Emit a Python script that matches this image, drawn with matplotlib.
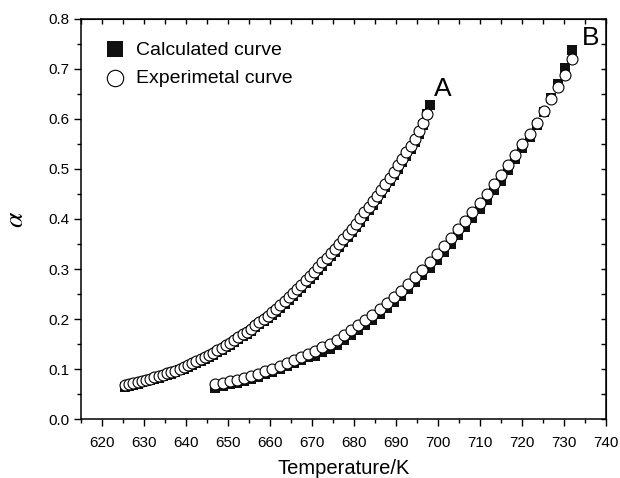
import numpy as np
import matplotlib
matplotlib.use('Agg')
import matplotlib.pyplot as plt
from matplotlib.ticker import MultipleLocator, FormatStrFormatter

plt.rcParams['font.family'] = 'Liberation Sans'
plt.rcParams['mathtext.fontset'] = 'stix'

# curve A, experimental (circles)
t_a = [625.5, 626.5, 627.5, 628.5, 629.5, 630.5, 631.5, 632.5, 633.5, 634.5,
       635.5, 636.5, 637.5, 638.5, 639.5, 640.5, 641.5, 642.5, 643.5, 644.5,
       645.5, 646.5, 647.5, 648.5, 649.5, 650.5, 651.5, 652.5, 653.5, 654.5,
       655.5, 656.5, 657.5, 658.5, 659.5, 660.5, 661.5, 662.5, 663.5, 664.5,
       665.5, 666.5, 667.5, 668.5, 669.5, 670.5, 671.5, 672.5, 673.5, 674.5,
       675.5, 676.5, 677.5, 678.5, 679.5, 680.5, 681.5, 682.5, 683.5, 684.5,
       685.5, 686.5, 687.5, 688.5, 689.5, 690.5, 691.5, 692.5, 693.5, 694.5,
       695.5, 696.5, 697.5]
exp_a = [0.068, 0.070, 0.072, 0.074, 0.077, 0.079, 0.081, 0.084, 0.086, 0.089,
         0.092, 0.094, 0.097, 0.101, 0.104, 0.108, 0.112, 0.116, 0.120, 0.124,
         0.128, 0.133, 0.138, 0.143, 0.148, 0.153, 0.158, 0.164, 0.170, 0.175,
         0.181, 0.188, 0.194, 0.200, 0.207, 0.214, 0.221, 0.229, 0.236, 0.244,
         0.252, 0.261, 0.269, 0.278, 0.286, 0.295, 0.304, 0.313, 0.322, 0.331,
         0.340, 0.350, 0.360, 0.370, 0.380, 0.390, 0.401, 0.413, 0.424, 0.435,
         0.446, 0.458, 0.470, 0.482, 0.494, 0.507, 0.520, 0.533, 0.546, 0.559,
         0.575, 0.592, 0.610]
# curve A, calculated (squares)
tc_a = t_a + [698.2]
calc_a = [0.065, 0.067, 0.069, 0.071, 0.074, 0.076, 0.078, 0.081, 0.083, 0.086,
          0.089, 0.091, 0.094, 0.098, 0.101, 0.104, 0.108, 0.112, 0.116, 0.120,
          0.124, 0.129, 0.134, 0.139, 0.144, 0.149, 0.154, 0.160, 0.166, 0.171,
          0.177, 0.184, 0.190, 0.196, 0.203, 0.208, 0.215, 0.223, 0.230, 0.238,
          0.246, 0.255, 0.263, 0.272, 0.280, 0.289, 0.298, 0.307, 0.316, 0.325,
          0.334, 0.344, 0.354, 0.364, 0.374, 0.383, 0.394, 0.406, 0.417, 0.428,
          0.439, 0.451, 0.463, 0.475, 0.487, 0.500, 0.513, 0.526, 0.539, 0.553,
          0.570, 0.588, 0.609, 0.628]

# curve B
t_b = [647.0, 648.7, 650.4, 652.1, 653.8, 655.5, 657.2, 658.9, 660.6, 662.3,
       664.0, 665.7, 667.4, 669.1, 670.8, 672.5, 674.2, 675.9, 677.6, 679.3,
       681.0, 682.7, 684.4, 686.1, 687.8, 689.5, 691.2, 692.9, 694.6, 696.3,
       698.0, 699.7, 701.4, 703.1, 704.8, 706.5, 708.2, 709.9, 711.6, 713.3,
       715.0, 716.7, 718.4, 720.1, 721.8, 723.5, 725.2, 726.9, 728.6, 730.3,
       732.0]
exp_b = [0.070, 0.073, 0.076, 0.079, 0.082, 0.086, 0.091, 0.096, 0.101, 0.106,
         0.112, 0.118, 0.124, 0.130, 0.137, 0.144, 0.151, 0.159, 0.168, 0.178,
         0.188, 0.198, 0.209, 0.220, 0.232, 0.244, 0.257, 0.270, 0.284, 0.298,
         0.313, 0.329, 0.345, 0.362, 0.379, 0.396, 0.414, 0.432, 0.450, 0.469,
         0.488, 0.508, 0.528, 0.549, 0.570, 0.592, 0.615, 0.639, 0.663, 0.688,
         0.719]
calc_b = [0.063, 0.067, 0.070, 0.073, 0.076, 0.080, 0.085, 0.090, 0.095, 0.100,
          0.106, 0.112, 0.118, 0.124, 0.127, 0.134, 0.141, 0.149, 0.158, 0.168,
          0.178, 0.188, 0.199, 0.210, 0.222, 0.234, 0.247, 0.260, 0.274, 0.288,
          0.303, 0.317, 0.333, 0.350, 0.367, 0.384, 0.402, 0.420, 0.438, 0.457,
          0.476, 0.498, 0.519, 0.541, 0.564, 0.588, 0.613, 0.641, 0.670, 0.702,
          0.738]

fig = plt.figure(figsize=(6.2, 4.78), dpi=100)
ax = fig.add_axes([0.1306, 0.1234, 0.8468, 0.8369])

sq = dict(marker='s', s=55, color='#111111', linewidths=0, zorder=2)
ci = dict(marker='o', s=62, facecolor='white', edgecolor='black', linewidths=0.8, zorder=3)

ax.scatter(tc_a, calc_a, label='Calculated curve', **sq)
ax.scatter(t_b, calc_b, **sq)
ax.scatter(t_a, exp_a, label='Experimetal curve', **ci)
ax.scatter(t_b, exp_b, **ci)

ax.set_xlim(615, 740)
ax.set_ylim(0.0, 0.8)
ax.xaxis.set_major_locator(MultipleLocator(10))
ax.xaxis.set_minor_locator(MultipleLocator(5))
ax.yaxis.set_major_locator(MultipleLocator(0.1))
ax.yaxis.set_minor_locator(MultipleLocator(0.05))
ax.yaxis.set_major_formatter(FormatStrFormatter('%.1f'))
ax.tick_params(which='major', direction='out', length=5, width=1, labelsize=11)
ax.tick_params(axis='x', which='major', pad=7)
ax.tick_params(which='minor', direction='out', length=3, width=1)
for s in ax.spines.values():
    s.set_linewidth(1.1)

# inward ticks on top and right
top = ax.secondary_xaxis('top')
top.xaxis.set_major_locator(MultipleLocator(5))
top.tick_params(direction='in', length=3.5, width=1, labeltop=False)
right = ax.secondary_yaxis('right')
right.yaxis.set_major_locator(MultipleLocator(0.05))
right.tick_params(direction='in', length=3.5, width=1, labelright=False)

ax.set_xlabel('Temperature/K', fontsize=14.5, labelpad=7)
ax.set_ylabel(r'$\alpha$', fontsize=20, labelpad=14)

ax.text(699.0, 0.646, 'A', fontsize=19, ha='left', va='baseline')
ax.text(734.3, 0.748, 'B', fontsize=19, ha='left', va='baseline')

ax.legend(loc='upper left', bbox_to_anchor=(0.0457, 0.945), frameon=False,
          fontsize=14, markerscale=1.5, handletextpad=0.6, borderpad=0,
          borderaxespad=0, labelspacing=0.55, handlelength=1.0)

fig.savefig('out.png', dpi=100)
